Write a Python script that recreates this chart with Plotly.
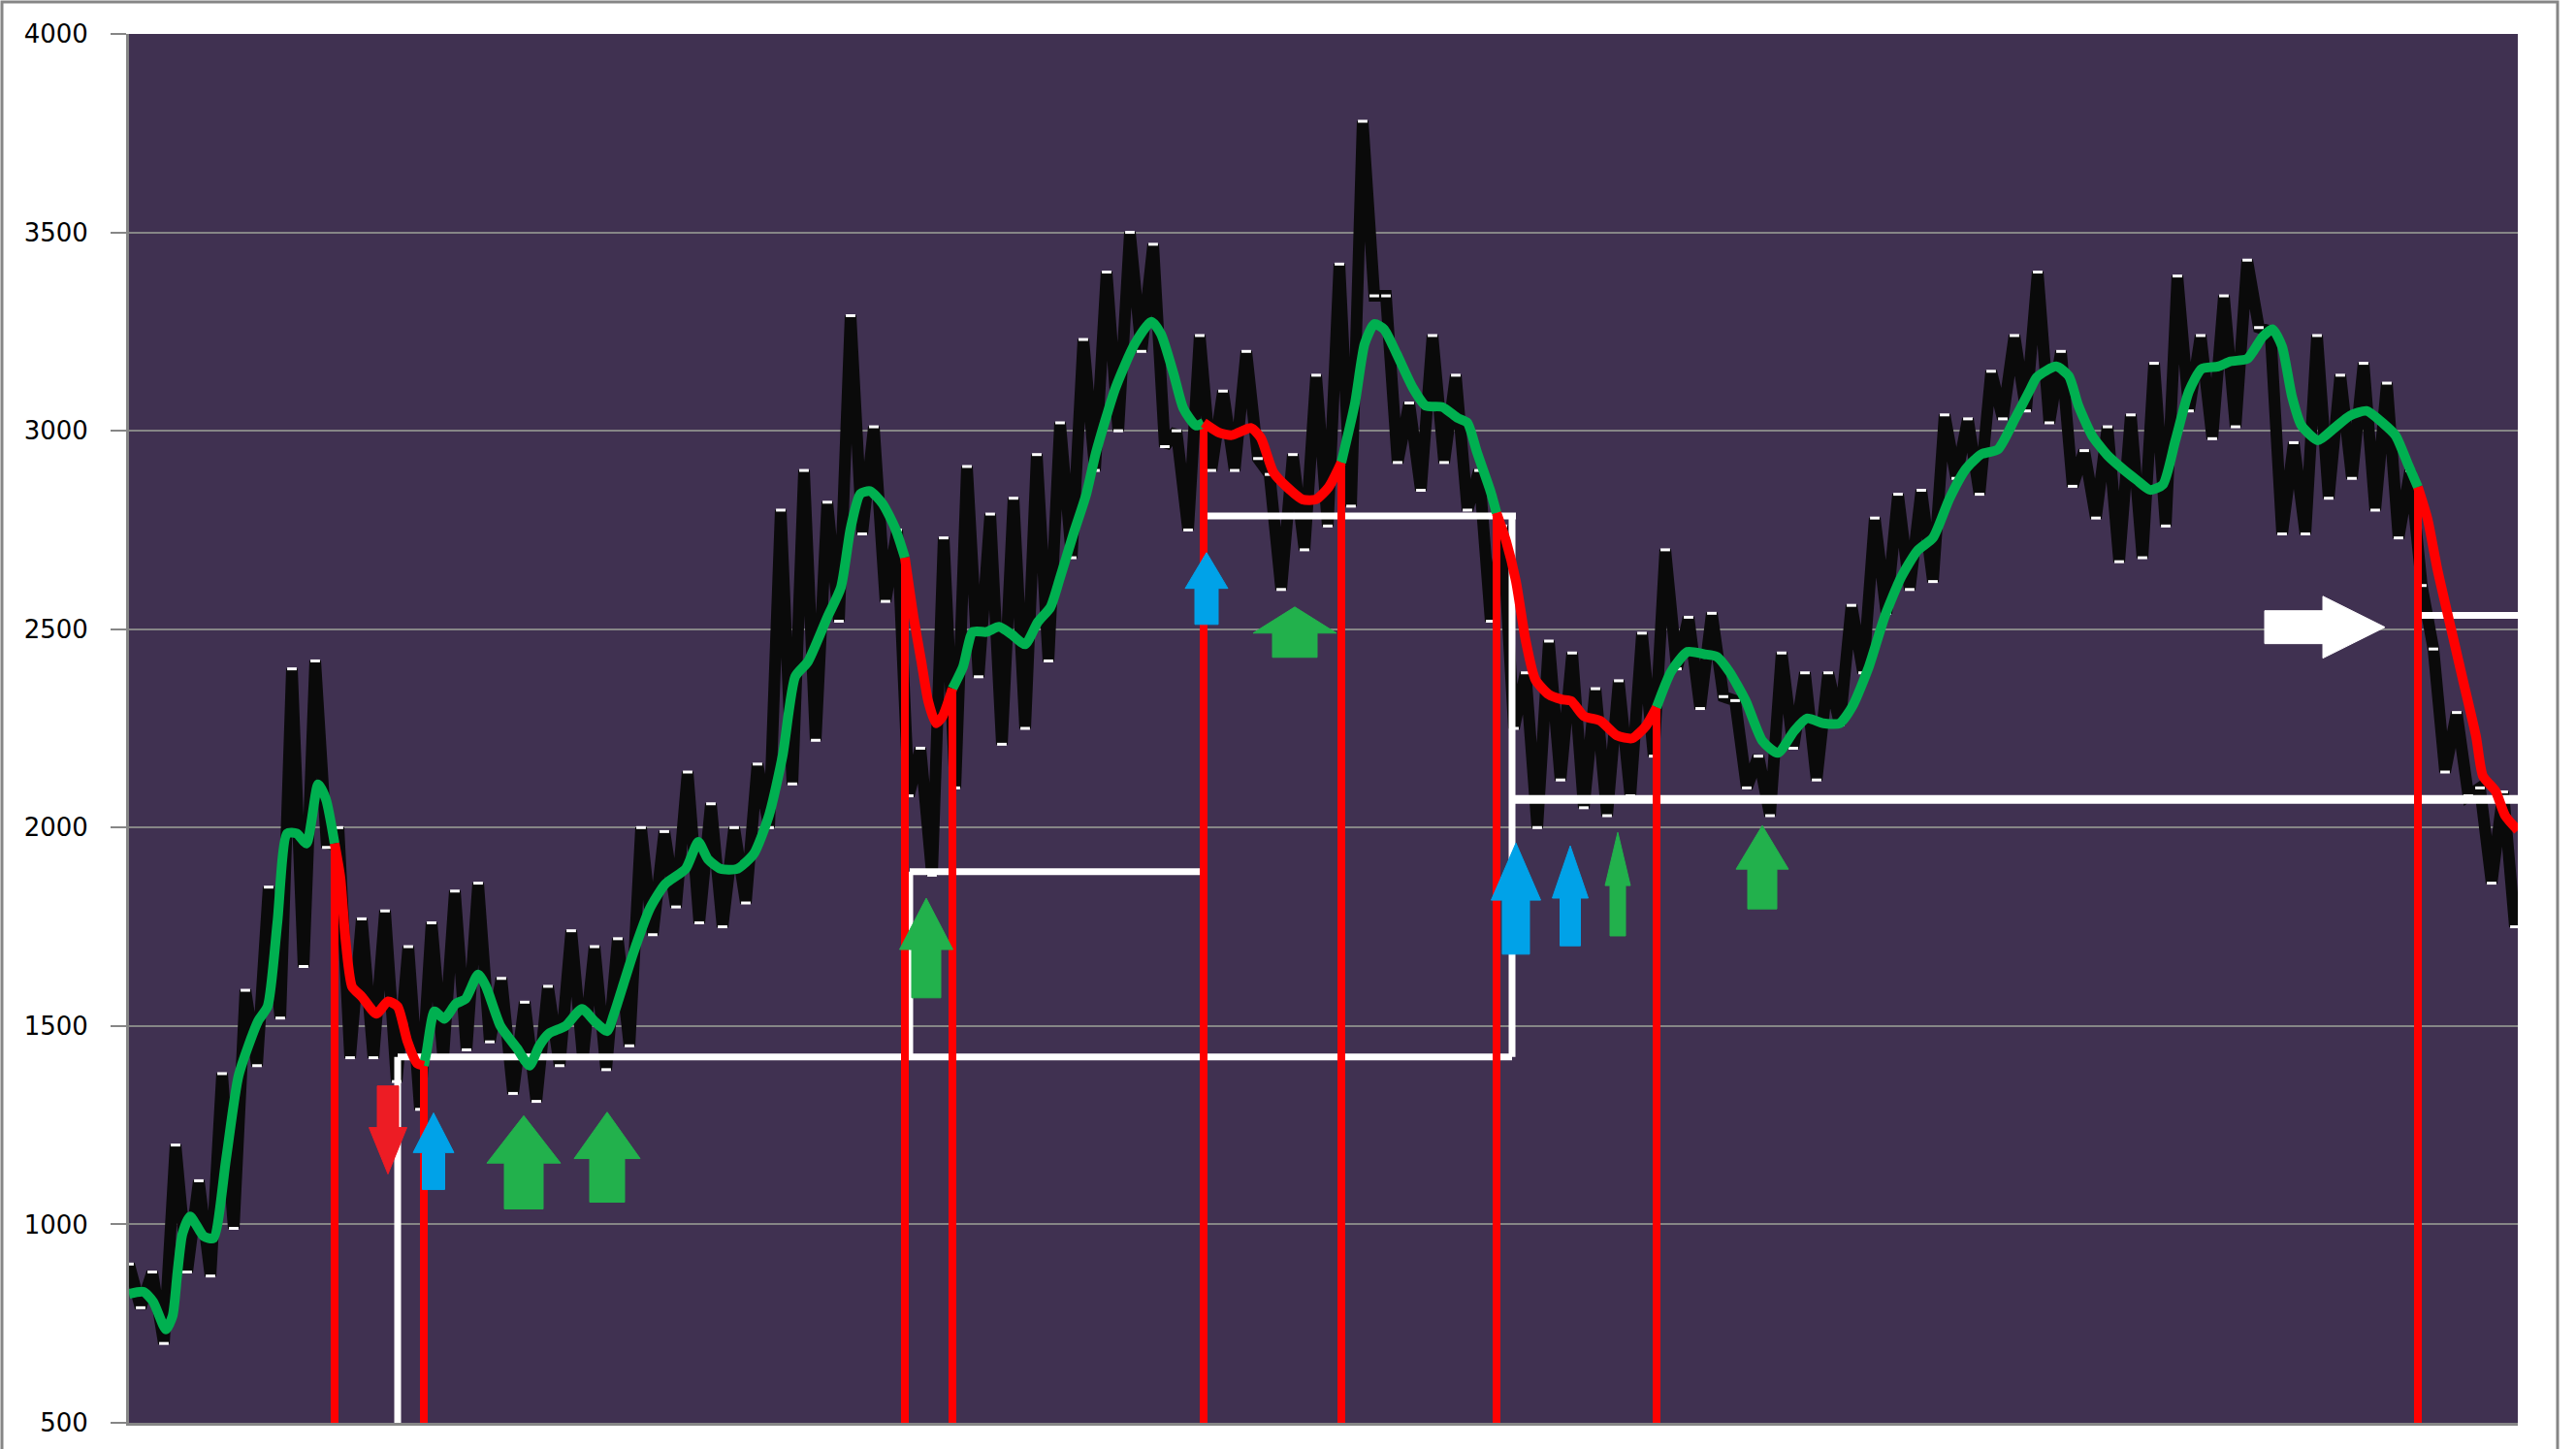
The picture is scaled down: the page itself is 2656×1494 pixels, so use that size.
import numpy as np
import plotly.graph_objects as go

# ---------------- data ----------------
bin_t = list(range(0, 2449, 24))
price_high = [900, 880, 1200, 1110, 1380, 1590, 1850, 2400, 2420, 2000,
              1770, 1790, 1700, 1760, 1840, 1860, 1620, 1560, 1600, 1740,
              1700, 1720, 2000, 1990, 2140, 2060, 2000, 2160, 2800, 2900,
              2820, 3290, 3010, 2750, 2200, 2730, 2910, 2790, 2830, 2940,
              3020, 3230, 3400, 3500, 3470, 3000, 3240, 3100, 3200, 2890,
              2940, 3140, 3420, 3780, 3340, 3070, 3240, 3140, 2900, 2760,
              2390, 2470, 2440, 2350, 2370, 2490, 2700, 2530, 2540, 2320,
              2180, 2440, 2390, 2390, 2560, 2780, 2840, 2850, 3040, 3030,
              3150, 3240, 3400, 3200, 2950, 3010, 3040, 3170, 3390, 3240,
              3340, 3430, 3250, 2970, 3240, 3140, 3170, 3120, 2900, 2450,
              2290, 2100, 2090]
price_low = [790, 700, 880, 870, 990, 1400, 1520, 1650, 1950, 1420,
             1420, 1360, 1290, 1420, 1440, 1460, 1330, 1310, 1400, 1420,
             1390, 1450, 1730, 1800, 1760, 1750, 1810, 2000, 2110, 2220,
             2520, 2740, 2570, 2080, 1880, 2100, 2380, 2210, 2250, 2420,
             2680, 2900, 3000, 3200, 2960, 2750, 2900, 2900, 2930, 2600,
             2700, 2760, 2810, 3340, 2920, 2850, 2920, 2800, 2520, 2250,
             2000, 2120, 2050, 2030, 2080, 2180, 2400, 2300, 2330, 2100,
             2030, 2200, 2120, 2260, 2390, 2540, 2600, 2620, 2880, 2840,
             3030, 3050, 3020, 2860, 2780, 2670, 2680, 2760, 3050, 2980,
             3010, 3260, 2740, 2740, 2830, 2880, 2800, 2730, 2610, 2140,
             2080, 1860, 1750]

trend_t = [0, 15, 25, 38, 45, 50, 55, 63, 77, 87, 100, 113, 133, 143, 153, 163, 173, 183,
           195, 203, 212, 218, 223, 230, 240, 255, 267, 277, 287, 297, 304, 307, 315, 325,
           337, 347, 360, 368, 383, 400, 413, 423, 433, 450, 467, 480, 493, 500, 520, 537,
           553, 574, 587, 597, 610, 627, 644, 660, 674, 687, 700, 720, 734, 744, 754, 764,
           777, 790, 800, 809, 817, 824, 832, 839, 849, 860, 870, 884, 897, 910, 924, 937,
           950, 960, 974, 987, 997, 1017, 1037, 1054, 1064, 1077, 1087, 1100, 1108, 1124,
           1137, 1157, 1167, 1180, 1194, 1210, 1224, 1237, 1250, 1264, 1274, 1284, 1294,
           1307, 1324, 1337, 1354, 1370, 1380, 1390, 1404, 1410, 1420, 1430, 1440, 1450,
           1464, 1477, 1487, 1500, 1517, 1534, 1550, 1564, 1575, 1590, 1607, 1624, 1637,
           1650, 1667, 1684, 1700, 1717, 1730, 1747, 1764, 1777, 1794, 1810, 1827, 1844,
           1860, 1877, 1894, 1910, 1927, 1944, 1960, 1967, 1987, 2000, 2010, 2024, 2040,
           2057, 2070, 2084, 2097, 2110, 2124, 2137, 2154, 2167, 2184, 2200, 2210, 2220,
           2230, 2240, 2257, 2274, 2290, 2307, 2324, 2337, 2350, 2360, 2370, 2380, 2394,
           2407, 2420, 2427, 2440, 2450, 2463]
trend_v = [825, 830, 805, 735, 770, 880, 975, 1020, 970, 965, 1163, 1375, 1512, 1550, 1761,
           1985, 1985, 1960, 2109, 2072, 1960, 1873, 1724, 1599, 1574, 1531, 1562, 1549,
           1462, 1406, 1400, 1437, 1537, 1518, 1556, 1568, 1630, 1600, 1500, 1444, 1400,
           1450, 1481, 1500, 1543, 1512, 1487, 1530, 1684, 1796, 1858, 1896, 1964, 1920,
           1896, 1896, 1933, 2032, 2182, 2381, 2418, 2530, 2605, 2754, 2841, 2848, 2816,
           2754, 2680, 2530, 2418, 2319, 2263, 2281, 2350, 2406, 2493, 2493, 2506, 2487,
           2462, 2518, 2555, 2630, 2742, 2840, 2945, 3107, 3219, 3275, 3244, 3144, 3057,
           3013, 3020, 2995, 2989, 3007, 2982, 2895, 2858, 2827, 2827, 2858, 2920, 3069,
           3219, 3269, 3256, 3194, 3107, 3063, 3060, 3032, 3020, 2945, 2846, 2793, 2721,
           2621, 2472, 2373, 2335, 2323, 2319, 2281, 2269, 2232, 2225, 2256, 2303, 2393,
           2443, 2437, 2431, 2393, 2319, 2219, 2188, 2244, 2275, 2263, 2263, 2306, 2406,
           2530, 2630, 2698, 2730, 2829, 2904, 2941, 2953, 3028, 3103, 3135, 3162, 3138,
           3063, 2988, 2938, 2901, 2876, 2851, 2864, 2976, 3100, 3156, 3162, 3175, 3181,
           3237, 3256, 3212, 3088, 3013, 2976, 3007, 3038, 3050, 3019, 2988, 2914, 2858,
           2777, 2652, 2503, 2366, 2229, 2130, 2092, 2030, 1993]

# sell-signal (red) periods on the trend line
red_start = [212, 800, 1108, 1410, 2360]
red_end = [304, 849, 1250, 1575, 2463]

# white support/resistance levels
h_level = [1422, 1889, 2785, 2071, 2535]
h_from = [277, 805, 1110, 1426, 2363]
h_to = [1426, 1112, 1430, 2463, 2463]
v_at = [277, 805, 1426]
v_from = [500, 1422, 1422]
v_to = [1422, 1889, 2785]

# vertical arrows (position on time axis, tip value, tail value)
arrow_t = [267, 314, 407, 493, 822, 1111, 1202, 1430, 1486, 1535, 1684]
arrow_tip = [1127, 1281, 1274, 1283, 1822, 2693, 2556, 1961, 1954, 1988, 2005]
arrow_tail = [1349, 1088, 1039, 1056, 1571, 2512, 2429, 1681, 1702, 1727, 1795]
arrow_kind = ["red", "blue", "green", "green", "green", "blue", "green", "blue", "blue", "green", "green"]
# horizontal white arrow
harrow_v = 2505
harrow_tail = 2202
harrow_tip = 2326

y_ticks = [500, 1000, 1500, 2000, 2500, 3000, 3500, 4000]

# ---------------- styles ----------------
VPP = 3500 / 1435.0  # value units per pixel
head_len = [48, 41, 49, 48, 53, 37, 27, 59, 54, 55, 45]
head_hw = [19.5, 21, 38, 34, 27.5, 22, 43, 25.5, 18.5, 13, 27]
shaft_hw = [11, 11.5, 20, 18, 15, 12, 23, 14, 10.5, 8, 15]
arrow_colors = {"red": "#ED1C24", "blue": "#00A2E8", "green": "#22B14C"}
GREEN = "#00B050"
RED = "#FF0000"

fig = go.Figure()

# price series (zig-zag between high and low readings)
px_x, px_y = [], []
for t, h, l in zip(bin_t, price_high, price_low):
    px_x += [t, t + 12]
    px_y += [h, l]
fig.add_trace(go.Scatter(
    x=px_x, y=px_y, mode="lines+markers",
    line=dict(color="#0A0A0A", width=12),
    marker=dict(symbol="line-ew", size=7, color="white", line=dict(color="white", width=3)),
    hoverinfo="skip", showlegend=False))

# white level lines
wx, wy = [], []
for lv, a, b in zip(h_level, h_from, h_to):
    if lv == 2071:
        continue
    wx += [a, b, None]
    wy += [lv, lv, None]
for t, a, b in zip(v_at, v_from, v_to):
    wx += [t, t, None]
    wy += [a, b, None]
fig.add_trace(go.Scatter(x=wx, y=wy, mode="lines", line=dict(color="white", width=7),
                         hoverinfo="skip", showlegend=False))
for lv, a, b in zip(h_level, h_from, h_to):
    if lv == 2071:
        fig.add_trace(go.Scatter(x=[a, b], y=[lv, lv], mode="lines",
                                 line=dict(color="white", width=9),
                                 hoverinfo="skip", showlegend=False))

# red vertical signal lines
tt = np.array(trend_t, dtype=float)
tv = np.array(trend_v, dtype=float)
rx, ry = [], []
for s in red_start + red_end[:-1]:
    rx += [s, s, None]
    ry += [500, float(np.interp(s, tt, tv)), None]
fig.add_trace(go.Scatter(x=rx, y=ry, mode="lines", line=dict(color=RED, width=8),
                         hoverinfo="skip", showlegend=False))


def in_red(t):
    return any(s <= t <= e for s, e in zip(red_start, red_end))


def seg_color(j):
    return RED if (in_red(trend_t[j]) and in_red(trend_t[j + 1])) else GREEN


segs = {GREEN: ([], []), RED: ([], [])}
i = 0
n = len(trend_t)
while i < n - 1:
    col = seg_color(i)
    j = i
    while j < n - 1 and seg_color(j) == col:
        j += 1
    segs[col][0].extend(trend_t[i:j + 1] + [None])
    segs[col][1].extend(trend_v[i:j + 1] + [None])
    i = j
for col in (GREEN, RED):
    fig.add_trace(go.Scatter(x=segs[col][0], y=segs[col][1], mode="lines",
                             line=dict(color=col, width=10, shape="spline", smoothing=0.6),
                             hoverinfo="skip", showlegend=False))

# arrows as shapes
shapes = []
for k in range(len(arrow_t)):
    cx = arrow_t[k]
    tip = arrow_tip[k]
    tail = arrow_tail[k]
    d = 1 if tip > tail else -1
    hb = tip - d * head_len[k] * VPP
    hw = head_hw[k]
    sw = shaft_hw[k]
    path = (f"M {cx - sw},{tail} L {cx - sw},{hb} L {cx - hw},{hb} L {cx},{tip} "
            f"L {cx + hw},{hb} L {cx + sw},{hb} L {cx + sw},{tail} Z")
    c = arrow_colors[arrow_kind[k]]
    shapes.append(dict(type="path", path=path, xref="x", yref="y", fillcolor=c,
                       line=dict(color=c, width=1), layer="above"))
hb = harrow_tip - 64
hh = 32 * VPP
sh = 17 * VPP
path = (f"M {harrow_tail},{harrow_v - sh} L {hb},{harrow_v - sh} L {hb},{harrow_v - hh} "
        f"L {harrow_tip},{harrow_v} L {hb},{harrow_v + hh} L {hb},{harrow_v + sh} "
        f"L {harrow_tail},{harrow_v + sh} Z")
shapes.append(dict(type="path", path=path, xref="x", yref="y", fillcolor="white",
                   line=dict(color="white", width=1), layer="above"))

# outer chart border
PW, PH = 2463.0, 1435.0
shapes.append(dict(type="rect", xref="paper", yref="paper",
                   x0=(2 - 133) / PW, x1=(2637 - 133) / PW,
                   y0=-(1494 - 1470 + 20) / PH, y1=1 + (35 - 2) / PH,
                   line=dict(color="#868686", width=3), fillcolor="rgba(0,0,0,0)", layer="below"))

fig.update_layout(
    width=2656, height=1494,
    margin=dict(l=133, r=60, t=35, b=24, pad=0),
    paper_bgcolor="white", plot_bgcolor="#403151",
    shapes=shapes,
    showlegend=False,
    xaxis=dict(range=[0, 2463], showgrid=False, showticklabels=False, zeroline=False,
               showline=True, linecolor="#868686", linewidth=3, ticks=""),
    yaxis=dict(range=[500, 4000], tickvals=y_ticks, ticktext=[str(v) for v in y_ticks],
               showgrid=True, gridcolor="#868686", gridwidth=2, zeroline=False,
               showline=True, linecolor="#868686", linewidth=3,
               ticks="outside", ticklen=16, tickcolor="#868686", tickwidth=2,
               ticklabelstandoff=18,
               tickfont=dict(family="DejaVu Sans", size=26, color="black")),
)

fig.write_html("out.html", config={"displayModeBar": False},
               post_script="document.body.style.margin='0';")
